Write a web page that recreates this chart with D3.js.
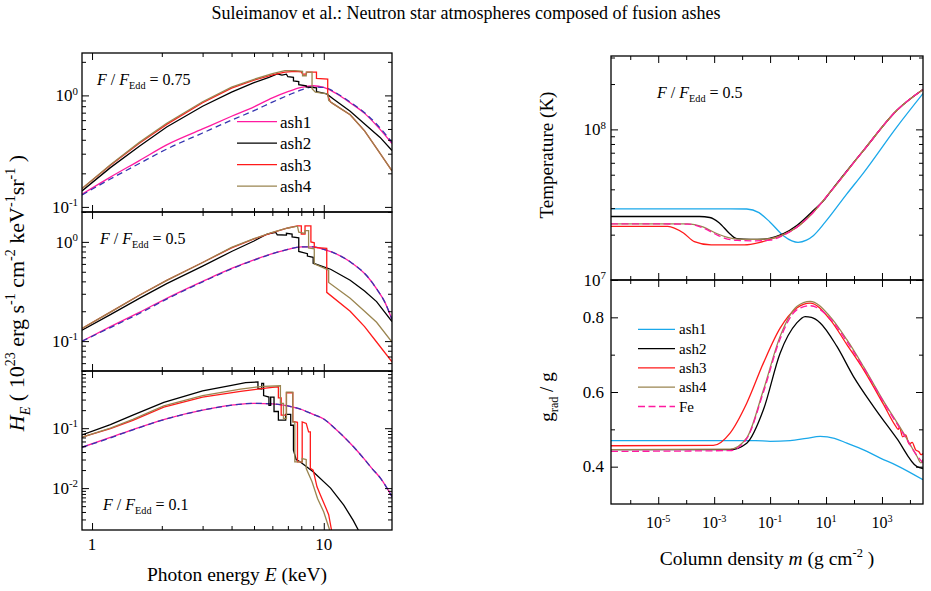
<!DOCTYPE html>
<html>
<head>
<meta charset="utf-8">
<script src="https://cdn.jsdelivr.net/npm/d3@7"></script>
<style>
  body { margin: 0; background: #fff; }
  svg text { font-family: "Liberation Serif", Tinos, "Times New Roman", Times, "DejaVu Serif", serif; fill: #000; }
</style>
</head>
<body>
<svg id="chart" width="931" height="591" font-family="Liberation Serif, Times New Roman, DejaVu Serif, serif"></svg>
<script>
// ---- data: [photon energy keV, H_E] ----
const top_ash1 = [[0.905,0.13],[1.2,0.185],[1.6,0.26],[2.1,0.36],[3,0.5],[4,0.65],[5,0.79],[6,0.95],[7,1.08],[8,1.18],[9,1.22],[10,1.18],[11.5,1.02],[13,0.86],[15,0.69],[17,0.53],[19.7,0.37]];
const top_fe = [[0.905,0.128],[1.2,0.178],[1.6,0.245],[2.1,0.33],[3,0.46],[4,0.6],[5,0.73],[6,0.87],[7,1.0],[8,1.12],[9,1.19],[10,1.18],[11.5,1.03],[13,0.87],[15,0.7],[17,0.545],[19.7,0.38]];
const top_ash2 = [[0.905,0.139],[1.2,0.225],[1.6,0.35],[2.1,0.52],[3,0.8],[4,1.07],[5,1.3],[5.8,1.45],[6.3,1.56],[6.6,1.52],[6.9,1.55],[7.0,1.47],[7.4,1.45],[7.4,1.35],[7.8,1.33],[7.8,1.25],[8.4,1.22],[8.4,1.19],[9.3,1.17],[9.3,1.08],[10.3,1.03],[11,0.93],[13,0.72],[15.4,0.53],[17.5,0.42],[19.7,0.32]];
const top_ash3 = [[0.905,0.146],[1.2,0.236],[1.6,0.372],[2.1,0.55],[3,0.86],[4,1.16],[5,1.37],[6,1.53],[6.8,1.62],[7.5,1.64],[8.0,1.63],[8.1,1.55],[8.4,1.55],[8.45,1.62],[9.3,1.62],[9.3,1.42],[10.4,1.4],[10.4,1.0],[10.7,0.87],[11,0.84],[13,0.67],[15,0.48],[17,0.33],[19.7,0.21]];
const top_ash4 = [[0.905,0.146],[1.2,0.239],[1.6,0.379],[2.1,0.562],[3,0.878],[4,1.188],[5,1.395],[6,1.571],[6.8,1.67],[7.5,1.67],[8.1,1.64],[8.1,1.5],[8.4,1.5],[8.4,1.62],[8.9,1.62],[8.9,1.15],[9.2,1.07],[10.4,1.03],[10.5,0.9],[11,0.84],[13,0.67],[15,0.48],[17,0.33],[19.7,0.21]];

const mid_ash1 = [[0.905,0.1],[1.2,0.14],[1.6,0.195],[2.1,0.27],[3,0.4],[4,0.54],[5,0.66],[6,0.76],[7,0.84],[8,0.89],[9,0.89],[10,0.84],[11,0.78],[13,0.63],[15.4,0.45],[17,0.33],[18.3,0.25],[19.7,0.165]];
const mid_fe = [[0.905,0.1],[1.2,0.137],[1.6,0.19],[2.1,0.265],[3,0.395],[4,0.535],[5,0.655],[6,0.76],[7,0.84],[8,0.89],[9,0.89],[10,0.84],[11,0.78],[13,0.63],[15.4,0.45],[17,0.33],[18.3,0.25],[19.7,0.165]];
const mid_ash2 = [[0.905,0.129],[1.2,0.185],[1.6,0.27],[2.1,0.38],[3,0.57],[4,0.8],[5,1.02],[5.7,1.2],[6.2,1.25],[6.3,1.18],[6.9,1.17],[6.9,1.22],[7.3,1.2],[7.3,1.12],[7.8,1.1],[7.8,0.8],[8.5,0.76],[8.5,0.72],[9.0,0.7],[9.0,0.61],[10.7,0.53],[13,0.41],[15,0.32],[16.9,0.25],[19.7,0.157]];
const mid_ash3 = [[0.905,0.134],[1.2,0.196],[1.6,0.29],[2.1,0.41],[3,0.62],[4,0.87],[5,1.07],[6,1.24],[7.0,1.38],[7.7,1.45],[8.0,1.45],[8.0,1.2],[8.3,1.2],[8.3,1.45],[8.8,1.45],[8.8,1.0],[9.1,0.98],[9.1,0.88],[10.3,0.86],[10.3,0.31],[13,0.2],[15,0.14],[16.9,0.098],[19.7,0.062]];
const mid_ash4 = [[0.905,0.134],[1.2,0.196],[1.6,0.29],[2.1,0.41],[3,0.62],[4,0.88],[5,1.08],[6,1.25],[7.0,1.38],[7.7,1.44],[7.8,1.25],[8.3,1.22],[8.3,1.3],[8.6,1.3],[8.6,0.87],[9.1,0.85],[9.1,0.6],[10.5,0.52],[10.5,0.39],[13,0.27],[15,0.2],[16.9,0.155],[19.7,0.098]];

const bot_ash1 = [[0.905,0.048],[1.2,0.07],[1.5,0.095],[2.11,0.145],[3,0.2],[4.09,0.244],[5,0.26],[6,0.255],[7,0.235],[8,0.205],[9,0.17],[10,0.142],[11,0.105],[12.2,0.072],[13.5,0.048],[14.9,0.031],[16.2,0.021],[17.6,0.0145],[19.7,0.0072]];
const bot_fe = [[0.905,0.048],[1.2,0.069],[1.5,0.094],[2.11,0.144],[3,0.2],[4.09,0.244],[5,0.26],[6,0.255],[7,0.235],[8,0.205],[9,0.17],[10,0.142],[11,0.105],[12.2,0.072],[13.5,0.048],[14.9,0.031],[16.2,0.021],[17.6,0.0145],[19.7,0.0072]];
const bot_ash2 = [[0.905,0.077],[1.2,0.115],[1.5,0.165],[2.04,0.27],[3,0.42],[4.0,0.52],[4.6,0.575],[5.2,0.59],[5.2,0.46],[5.4,0.45],[5.4,0.56],[5.5,0.56],[5.5,0.35],[5.8,0.33],[5.8,0.24],[5.9,0.24],[5.9,0.33],[6.1,0.33],[6.1,0.19],[6.37,0.19],[6.37,0.136],[6.85,0.136],[6.85,0.17],[7.2,0.17],[7.2,0.112],[7.4,0.112],[7.4,0.043],[7.6,0.03],[7.9,0.0275],[9,0.0187],[10.7,0.01],[12.2,0.0052],[13.4,0.0029],[14.1,0.002]];
const bot_ash3 = [[0.905,0.071],[1.2,0.098],[1.5,0.135],[2.04,0.225],[3,0.33],[4.37,0.41],[5.5,0.46],[6.0,0.48],[6.37,0.49],[6.37,0.32],[6.55,0.32],[6.55,0.165],[6.9,0.165],[6.9,0.39],[7.35,0.39],[7.35,0.13],[7.7,0.125],[7.7,0.0275],[8.07,0.0275],[8.07,0.127],[8.4,0.12],[8.6,0.087],[8.75,0.087],[8.75,0.0213],[9.0,0.02],[9.35,0.0105],[9.67,0.0077],[10.1,0.0052],[10.5,0.0036],[10.8,0.002]];
const bot_ash4 = [[0.905,0.071],[1.2,0.1],[1.5,0.14],[2.04,0.235],[3,0.35],[4.37,0.45],[5.2,0.49],[5.5,0.5],[6.5,0.51],[6.5,0.26],[6.7,0.26],[6.7,0.145],[6.9,0.145],[6.9,0.4],[7.35,0.4],[7.35,0.126],[7.5,0.126],[7.5,0.0275],[8.07,0.0275],[8.07,0.031],[8.4,0.03],[8.4,0.0212],[8.9,0.0128],[9.4,0.0067],[10,0.004],[10.6,0.002]];

// ---- [column density g/cm2, temperature K] ----
const temp_ash1 = [[2.05e-7,2.97e7],[1e-3,2.97e7],[0.0146,2.96e7],[0.04,2.8e7],[0.1,2.42e7],[0.3,1.97e7],[0.6,1.82e7],[1.0,1.78e7],[2,1.84e7],[3.5,1.97e7],[9.3,2.42e7],[55.6,3.73e7],[219,5.15e7],[3430,1.04e8],[2.93e4,1.73e8]];
const temp_ash2 = [[2.05e-7,2.64e7],[3e-4,2.64e7],[7e-4,2.6e7],[1.5e-3,2.4e7],[3.7e-3,2.02e7],[6.4e-3,1.88e7],[0.02,1.86e7],[0.06,1.87e7],[0.15,1.93e7],[0.3,2.03e7],[0.9,2.3e7],[3.5,2.89e7],[9.3,3.46e7],[14,3.83e7],[219,7.25e7],[3430,1.34e8],[2.93e4,1.84e8]];
const temp_ash3 = [[2.05e-7,2.27e7],[2.2e-5,2.27e7],[8e-5,2.05e7],[1.95e-4,1.8e7],[7.8e-4,1.71e7],[0.012,1.71e7],[0.04,1.77e7],[0.107,1.87e7],[0.3,2.0e7],[0.9,2.24e7],[3.5,2.82e7],[14,3.83e7],[219,7.25e7],[3430,1.34e8],[2.93e4,1.84e8]];
const temp_ash4 = [[2.05e-7,2.36e7],[1.1e-4,2.36e7],[4e-4,2.25e7],[1.35e-3,2.02e7],[3e-3,1.92e7],[6.9e-3,1.87e7],[0.03,1.86e7],[0.1,1.88e7],[0.3,2.0e7],[0.9,2.24e7],[3.5,2.82e7],[14,3.83e7],[219,7.25e7],[3430,1.34e8],[2.93e4,1.84e8]];
const temp_fe = [[2.05e-7,2.36e7],[1.1e-4,2.35e7],[4e-4,2.22e7],[1.35e-3,1.98e7],[3e-3,1.87e7],[6.9e-3,1.83e7],[0.03,1.82e7],[0.1,1.84e7],[0.3,1.98e7],[0.9,2.24e7],[3.5,2.82e7],[14,3.83e7],[219,7.25e7],[3430,1.34e8],[2.93e4,1.84e8]];

// ---- [column density, g_rad / g] ----
const grad_ash1 = [[2.05e-7,0.47],[0.03,0.47],[0.1,0.468],[0.52,0.47],[2,0.476],[6.2,0.481],[20,0.476],[55.6,0.463],[219,0.445],[871,0.423],[3430,0.403],[2.93e4,0.365]];
const grad_ash2 = [[2.05e-7,0.4455],[3.7e-3,0.4455],[0.0146,0.463],[0.058,0.553],[0.228,0.704],[0.9,0.785],[1.78,0.802],[3,0.8],[6.2,0.785],[24.5,0.722],[95,0.642],[500,0.561],[3430,0.475],[1.78e4,0.40],[2.93e4,0.395]];
const grad_ash3 = [[2.05e-7,0.456],[9.3e-4,0.457],[3.7e-3,0.49],[0.0146,0.57],[0.058,0.678],[0.228,0.771],[0.9,0.825],[2.7,0.838],[14,0.794],[55.6,0.727],[219,0.66],[1150,0.566],[3000,0.51],[3800,0.5],[4200,0.505],[5500,0.48],[7000,0.485],[9500,0.46],[1.2e4,0.465],[1.6e4,0.445],[2.1e4,0.44],[2.5e4,0.432],[2.93e4,0.435]];
const grad_ash4 = [[2.05e-7,0.4455],[3.7e-3,0.447],[0.0146,0.477],[0.058,0.606],[0.228,0.749],[0.9,0.829],[2.7,0.843],[14,0.802],[55.6,0.74],[219,0.668],[1150,0.575],[5900,0.49],[1.78e4,0.428],[2.5e4,0.41],[2.93e4,0.42]];
const grad_fe = [[2.05e-7,0.441],[3.7e-3,0.443],[0.0146,0.475],[0.058,0.6],[0.228,0.742],[0.9,0.82],[2.7,0.831],[14,0.797],[55.6,0.735],[219,0.665],[1150,0.572],[5900,0.487],[1.78e4,0.43],[2.93e4,0.41]];

// legends and tick labels
const leftNames = ["ash1", "ash2", "ash3", "ash4"];
const rightNames = ["ash1", "ash2", "ash3", "ash4", "Fe"];
const fluxLabels = ["0.75", "0.5", "0.1"];
const energyLabels = [1, 10];
const massLabelExp = [-5, -3, -1, 1, 3];
const gradLabels = [0.4, 0.6, 0.8];

const C = { mag: "#ff1aa0", navy: "#3535b0", black: "#000", red: "#ff1a1a", olive: "#9a8550", sky: "#1aa8ea" };

const svg = d3.select("#chart");
const defs = svg.append("defs");

function rich(sel, parts, fs) {
  let off = 0;
  parts.forEach(([t, kind]) => {
    const sp = sel.append("tspan").text(t);
    let target = 0;
    if (kind.includes("sup")) { target = -fs * 0.4; sp.attr("font-size", fs * 0.64); }
    if (kind.includes("sub")) { target = fs * 0.28; sp.attr("font-size", fs * 0.64); }
    if (kind.includes("i")) sp.attr("font-style", "italic");
    if (target - off !== 0) sp.attr("dy", target - off);
    off = target;
  });
}

function inwardAxis(g, axis, tx, ty) {
  g.append("g").attr("transform", `translate(${tx},${ty})`).call(axis)
    .call(a => a.select(".domain").remove())
    .call(a => a.selectAll("line").attr("stroke", "#000").attr("stroke-width", 1));
}

function panel(o) {
  const g = svg.append("g");
  const [x0, x1] = o.x.range();
  const [y1, y0] = o.y.range();
  defs.append("clipPath").attr("id", o.id).append("rect")
    .attr("x", x0).attr("y", y0).attr("width", x1 - x0).attr("height", y1 - y0);
  const plot = g.append("g").attr("clip-path", `url(#${o.id})`);
  o.series.forEach(s => {
    const line = d3.line().x(d => o.x(d[0])).y(d => o.y(d[1]))
      .curve(s.step ? d3.curveLinear : d3.curveMonotoneX);
    plot.append("path").datum(s.data).attr("d", line)
      .attr("fill", "none").attr("stroke", s.color).attr("stroke-width", 1.3)
      .attr("stroke-dasharray", s.dash || null);
  });
  // ticks, pointing inward on every side
  [[o.xMajor, 7], [o.xMinor, 4]].forEach(([vals, len]) => {
    inwardAxis(g, d3.axisBottom(o.x).tickValues(vals).tickSize(-len).tickFormat(""), 0, y1);
    inwardAxis(g, d3.axisTop(o.x).tickValues(vals).tickSize(-len).tickFormat(""), 0, y0);
  });
  [[o.yMajor, 7], [o.yMinor, 4]].forEach(([vals, len]) => {
    inwardAxis(g, d3.axisLeft(o.y).tickValues(vals).tickSize(-len).tickFormat(""), x0, 0);
    inwardAxis(g, d3.axisRight(o.y).tickValues(vals).tickSize(-len).tickFormat(""), x1, 0);
  });
  g.append("rect").attr("x", x0).attr("y", y0).attr("width", x1 - x0).attr("height", y1 - y0)
    .attr("fill", "none").attr("stroke", "#000").attr("stroke-width", 1.3);
  return g;
}

const range = (a, b, f) => d3.range(a, b + 1).map(v => v * f);

// ---------- left: emergent spectra ----------
const xE = d3.scaleLog().domain([0.905, 19.7]).range([82, 392]);
const leftY = [
  d3.scaleLog().domain([0.09, 2.4]).range([212, 53]),
  d3.scaleLog().domain([0.05, 2.0]).range([371, 212]),
  d3.scaleLog().domain([0.002, 0.9]).range([530, 371])
];
const leftData = [
  [top_ash1, top_fe, top_ash2, top_ash3, top_ash4],
  [mid_ash1, mid_fe, mid_ash2, mid_ash3, mid_ash4],
  [bot_ash1, bot_fe, bot_ash2, bot_ash3, bot_ash4]
];
const leftYMajor = [[0.1, 1], [0.1, 1], [0.01, 0.1]];
const leftYMinor = [
  range(2, 9, 0.1).concat([2]),
  range(6, 9, 0.01).concat(range(2, 9, 0.1), [2]),
  range(3, 9, 0.001).concat(range(2, 9, 0.01), range(2, 9, 0.1))
];
const leftYLabels = [[[0, "0"], [-1, "-1"]], [[0, "0"], [-1, "-1"]], [[-1, "-1"], [-2, "-2"]]];
const annY = [85, 244, 510];
const annX = [97, 100, 103];

leftData.forEach((sets, i) => {
  const y = leftY[i];
  panel({
    id: "clipL" + i, x: xE, y: y,
    xMajor: [1, 10], xMinor: range(2, 9, 1),
    yMajor: leftYMajor[i], yMinor: leftYMinor[i],
    series: [
      { data: sets[0], color: C.mag },
      { data: sets[1], color: C.navy, dash: "6,4" },
      { data: sets[2], color: C.black, step: true },
      { data: sets[3], color: C.red, step: true },
      { data: sets[4], color: C.olive, step: true }
    ]
  });
  leftYLabels[i].forEach(([e, s]) => {
    const t = svg.append("text").attr("x", 78).attr("y", y(Math.pow(10, e)) + 6)
      .attr("text-anchor", "end").attr("font-size", 17);
    rich(t, [["10", ""], [s, "sup"]], 17);
  });
  const a = svg.append("text").attr("x", annX[i]).attr("y", annY[i]).attr("font-size", 16);
  rich(a, [["F", "i"], [" / ", ""], ["F", "i"], ["Edd", "sub"], [" = " + fluxLabels[i], ""]], 16);
});

energyLabels.forEach(v => {
  svg.append("text").attr("x", xE(v)).attr("y", 549.5).attr("text-anchor", "middle")
    .attr("font-size", 17).text(v);
});

// left legend
const leftColors = [C.mag, C.black, C.red, C.olive];
leftNames.forEach((n, i) => {
  const ly = 121.7 + i * 21.5;
  svg.append("line").attr("x1", 237).attr("x2", 277).attr("y1", ly).attr("y2", ly)
    .attr("stroke", leftColors[i]).attr("stroke-width", 1.3);
  svg.append("text").attr("x", 280).attr("y", ly + 6).attr("font-size", 17).text(n);
});

// left axis titles
const yl = svg.append("text").attr("transform", "translate(24,293) rotate(-90)")
  .attr("text-anchor", "middle").attr("font-size", 22);
rich(yl, [["H", "i"], ["E", "isub"], [" ( 10", ""], ["23", "sup"], [" erg s", ""], ["-1", "sup"],
  [" cm", ""], ["-2", "sup"], [" keV", ""], ["-1", "sup"], ["sr", ""], ["-1", "sup"], [" )", ""]], 22);
const xl = svg.append("text").attr("x", 237).attr("y", 581).attr("text-anchor", "middle").attr("font-size", 19.5);
rich(xl, [["Photon energy ", ""], ["E", "i"], [" (keV)", ""]], 19.5);

// ---------- right: structure ----------
const xM = d3.scaleLog().domain([2.05e-7, 2.93e4]).range([611, 923]);
const yT = d3.scaleLog().domain([1e7, 3.07e8]).range([280, 56]);
const yG = d3.scaleLinear().domain([0.3, 0.9]).range([504, 280]);
const massMajor = massLabelExp.map(e => Math.pow(10, e));
const massMinor = [-6, -4, -2, 0, 2, 4].map(e => Math.pow(10, e));

const rightColors = [C.sky, C.black, C.red, C.olive, C.mag];
function rightSeries(list) {
  return list.map((d, i) => ({ data: d, color: rightColors[i], dash: i === 4 ? "7,3.5" : null }));
}

panel({
  id: "clipR0", x: xM, y: yT, xMajor: massMajor, xMinor: massMinor,
  yMajor: [1e7, 1e8], yMinor: range(2, 9, 1e7).concat([2e8, 3e8]),
  series: rightSeries([temp_ash1, temp_ash2, temp_ash3, temp_ash4, temp_fe])
});
panel({
  id: "clipR1", x: xM, y: yG, xMajor: massMajor, xMinor: massMinor,
  yMajor: gradLabels, yMinor: [0.5, 0.7],
  series: rightSeries([grad_ash1, grad_ash2, grad_ash3, grad_ash4, grad_fe])
});

[[8, "8"], [7, "7"]].forEach(([e, s]) => {
  const t = svg.append("text").attr("x", 606).attr("y", yT(Math.pow(10, e)) + 6)
    .attr("text-anchor", "end").attr("font-size", 17);
  rich(t, [["10", ""], [s, "sup"]], 17);
});
gradLabels.forEach(v => {
  svg.append("text").attr("x", 604).attr("y", yG(v) + 5.5).attr("text-anchor", "end")
    .attr("font-size", 17).text(d3.format(".1f")(v));
});
massLabelExp.forEach(e => {
  const t = svg.append("text").attr("x", xM(Math.pow(10, e))).attr("y", 528)
    .attr("text-anchor", "middle").attr("font-size", 16);
  rich(t, [["10", ""], [String(e), "sup"]], 16);
});

const ra = svg.append("text").attr("x", 657).attr("y", 98).attr("font-size", 16);
rich(ra, [["F", "i"], [" / ", ""], ["F", "i"], ["Edd", "sub"], [" = 0.5", ""]], 16);

rightNames.forEach((n, i) => {
  const ly = 329.3 + i * 19.3;
  svg.append("line").attr("x1", 638).attr("x2", 675).attr("y1", ly).attr("y2", ly)
    .attr("stroke", rightColors[i]).attr("stroke-width", 1.3)
    .attr("stroke-dasharray", i === 4 ? "7,3.5" : null);
  svg.append("text").attr("x", 679).attr("y", ly + 5).attr("font-size", 15).text(n);
});

svg.append("text").attr("transform", "translate(553,155) rotate(-90)")
  .attr("text-anchor", "middle").attr("font-size", 19).text("Temperature (K)");
const gl = svg.append("text").attr("transform", "translate(553,397) rotate(-90)")
  .attr("text-anchor", "middle").attr("font-size", 19);
rich(gl, [["g", ""], ["rad", "sub"], [" / g", ""]], 19);
const ml = svg.append("text").attr("x", 767).attr("y", 565).attr("text-anchor", "middle").attr("font-size", 19.5);
rich(ml, [["Column density ", ""], ["m", "i"], [" (g cm", ""], ["-2", "sup"], [" )", ""]], 19.5);

// title
svg.append("text").attr("x", 466).attr("y", 19).attr("text-anchor", "middle").attr("font-size", 18)
  .text("Suleimanov et al.: Neutron star atmospheres composed of fusion ashes");
</script>
</body>
</html>
